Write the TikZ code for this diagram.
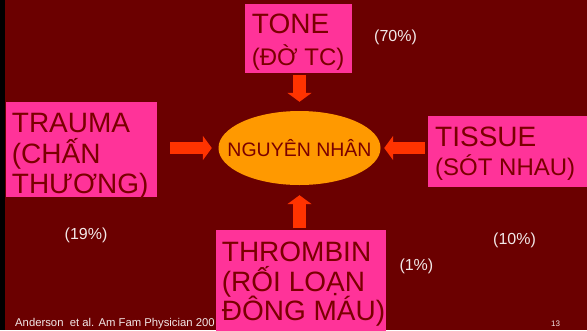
\documentclass[tikz,border=0pt]{standalone}
\usepackage{fontspec}
\setmainfont{Liberation Sans}
\usetikzlibrary{arrows.meta,shapes.geometric}
\definecolor{bg}{HTML}{6B0000}
\definecolor{pinkbox}{HTML}{FF3399}
\definecolor{boxtext}{HTML}{7A0000}
\definecolor{ellfill}{HTML}{FF9900}
\definecolor{arrowc}{HTML}{FF3300}
\definecolor{lighttext}{HTML}{F2E8E8}
\tikzset{
  cbox/.style={fill=pinkbox, draw=none, rectangle, inner sep=0pt, anchor=north west},
  bigtext/.style={anchor=base west, inner sep=0pt, text=boxtext, font=\fontsize{28}{30}\selectfont},
  medtext/.style={anchor=base west, inner sep=0pt, text=boxtext, font=\fontsize{24}{26}\selectfont},
  pct/.style={anchor=base west, inner sep=0pt, text=lighttext, font=\fontsize{16}{18}\selectfont},
  blockarrow/.style={draw=arrowc, line width=12.5pt, -{Triangle[width=24pt,length=9pt]}},
}
\begin{document}
\begin{tikzpicture}[x=1pt,y=-1pt]
\fill[bg] (0,0) rectangle (587,330);
\fill[black] (0,0) rectangle (4.5,330);
\useasboundingbox (0,0) rectangle (587,330);

% footer (partly hidden by the THROMBIN box)
\node[anchor=base west, inner sep=0pt, text=lighttext, font=\fontsize{11.3}{13}\selectfont] (cite) at (15,326) {Anderson\ \ et al. Am Fam Physician 200};
\node[anchor=base west, inner sep=0pt, text=lighttext, font=\fontsize{8}{10}\selectfont] (pagenum) at (551,326) {13};

% central ellipse
\node[ellipse, fill=ellfill, draw=none, minimum width=162pt, minimum height=74pt, inner sep=0pt] (cause) at (299.5,148) {};
\node[anchor=base, inner sep=0pt, text=boxtext, font=\fontsize{19.5}{22}\selectfont] (causetext) at (299.5,156.5) {NGUYÊN NHÂN};

% boxes
\node[cbox, minimum width=106.7pt, minimum height=69.4pt] (tone) at (245,3.3) {};
\node[bigtext] (tone1) at (251.7,33.3) {TONE};
\node[medtext] (tone2) at (251.7,65) {(ĐỜ TC)};

\node[cbox, minimum width=150.7pt, minimum height=95.3pt] (trauma) at (6,101.7) {};
\node[bigtext] (trauma1) at (11.7,132.5) {TRAUMA};
\node[bigtext] (trauma2) at (11.7,163) {(CHẤN};
\node[bigtext] (trauma3) at (11.7,193) {THƯƠNG)};

\node[cbox, minimum width=160pt, minimum height=70.7pt] (tissue) at (427.3,116) {};
\node[bigtext] (tissue1) at (435,146.7) {TISSUE};
\node[medtext] (tissue2) at (435,175) {(SÓT NHAU)};

\node[cbox, minimum width=169.7pt, minimum height=101pt] (thrombin) at (216,229.3) {};
\node[bigtext] (thrombin1) at (221.7,261.7) {THROMBIN};
\node[bigtext] (thrombin2) at (221.7,291.5) {(RỐI LOẠN};
\node[bigtext] (thrombin3) at (221.7,320.7) {ĐÔNG MÁU)};

% arrows
\draw[blockarrow, shorten <=2.3pt, shorten >=9pt] (tone.south -| cause.north) -- (cause.north);
\draw[blockarrow, shorten <=13pt, shorten >=6.5pt] (trauma.east |- cause.west) -- (cause.west);
\draw[blockarrow, shorten <=2.5pt, shorten >=3.5pt] (tissue.west |- cause.east) -- (cause.east);
\draw[blockarrow, shorten <=1pt, shorten >=10pt] (thrombin.north -| cause.south) -- (cause.south);

% percentages
\node[pct] (p70) at (374,41) {(70\%)};
\node[pct] (p19) at (64.5,239.5) {(19\%)};
\node[pct] (p10) at (493,244.5) {(10\%)};
\node[pct] (p1) at (399.3,270) {(1\%)};
\end{tikzpicture}
\end{document}
